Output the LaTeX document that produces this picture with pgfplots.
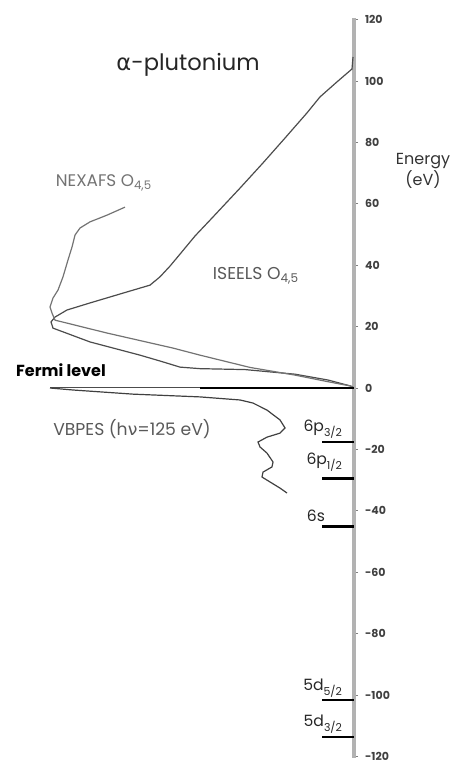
\documentclass[border=0pt]{standalone}
\usepackage{pgfplots}
\pgfplotsset{compat=1.18}
\usepackage{fontspec}
\setmainfont{Poppins}
\newfontfamily\greekfont{DejaVu Sans}
\begin{document}
\begin{tikzpicture}
\useasboundingbox (0,0) rectangle (227.5pt,381pt);
\begin{axis}[
  at={(0pt,2pt)}, anchor=south west,
  scale only axis, width=177pt, height=370pt,
  xmin=0, xmax=354, ymin=-120.5, ymax=120.5,
  axis x line=none,
  axis y line=right,
  axis line style={line width=1.6pt, color=black!30, -},
  ytick={-120,-100,...,120},
  ytick style={draw=black!50, line width=0.4pt},
  tick align=outside, major tick length=2pt,
  yticklabel style={font=\fontsize{5.5}{6}\selectfont\bfseries, text=black!75},
  /pgf/number format/assume math mode=true,
  clip=false,
]
% ISEELS O4,5
\addplot[black!70, line width=0.6pt] coordinates {
 (353,107.8) (352,103.9) (337,99.7) (320,94.8) (307,89.6) (285,81.4) (263,73.3)
 (240,65.1) (213,55.7) (195,49.5) (180,43.6) (170,39.7) (160,36.2) (150,33.5)
 (123,30.9) (90,27.7) (67,25.4) (55,23.1) (51,21.5) (53,19.5) (90,15.0)
 (140,10.7) (163,8.5) (180,6.8) (200,6.3) (245,6.0) (295,4.5) (328,2.6)
 (350,0.7) (353,0.3)};
% NEXAFS O4,5
\addplot[black!55, line width=0.6pt] coordinates {
 (125,58.9) (107,56.3) (90,54.1) (80,52.1) (75,49.8) (72,45.9) (68,41.7)
 (63,36.2) (58,31.9) (53,29.3) (50,26.4) (52,24.4) (55,22.1) (107,17.9)
 (173,13.0) (200,10.7) (250,6.7) (295,4.2) (335,1.6) (350,0.7) (353,0.3)};
% Fermi level
\addplot[black!70, line width=0.5pt] coordinates {(50,0) (354,0)};
\addplot[black, line width=1.1pt] coordinates {(200,0) (354,0)};
% VBPES
\addplot[black!75, line width=0.6pt] coordinates {
 (50,0) (73,-0.65) (133,-2.0) (200,-2.9) (240,-3.9) (253,-4.9) (267,-7.2)
 (280,-10.4) (285,-13.0) (280,-14.7) (267,-16.0) (258,-17.6) (260,-19.2)
 (267,-21.2) (273,-24.1) (272,-25.7) (263,-27.4) (262,-29.0) (270,-30.6)
 (280,-32.6) (287,-34.2)};
% core levels
\addplot[black, line width=1.3pt] coordinates {(322,-17.6) (354,-17.6)};
\addplot[black, line width=1.3pt] coordinates {(322,-29.4) (354,-29.4)};
\addplot[black, line width=1.3pt] coordinates {(322,-45.2) (354,-45.2)};
\addplot[black, line width=1.3pt] coordinates {(322,-101.6) (354,-101.6)};
\addplot[black, line width=1.3pt] coordinates {(322,-113.7) (354,-113.7)};
% labels
\node[font=\fontsize{11.3}{12}\selectfont, text=black!85] at (axis cs:188,105.2) {{\greekfont α}-plutonium};
\node[font=\fontsize{8.4}{9}\selectfont, text=black!55] at (axis cs:104,66.8) {NEXAFS O\textsubscript{4,5}};
\node[font=\fontsize{8.6}{9}\selectfont, text=black!65] at (axis cs:256,36.5) {ISEELS O\textsubscript{4,5}};
\node[font=\fontsize{8}{9}\selectfont\bfseries, text=black] at (axis cs:61,5.9) {Fermi level};
\node[font=\fontsize{8.6}{9}\selectfont, text=black!65] at (axis cs:132,-13.4) {VBPES (h{\greekfont ν}=125 eV)};
\node[align=center, font=\fontsize{8}{9}\selectfont, text=black!80] at (axis cs:423,70.7) {Energy\\(eV)};
\node[anchor=east, font=\fontsize{7.8}{8}\selectfont, text=black!85] at (axis cs:350,-13.4) {6p\textsubscript{3/2}};
\node[anchor=east, font=\fontsize{7.8}{8}\selectfont, text=black!85] at (axis cs:350,-24.1) {6p\textsubscript{1/2}};
\node[anchor=east, font=\fontsize{7.8}{8}\selectfont, text=black!85] at (axis cs:332,-41.7) {6s};
\node[anchor=east, font=\fontsize{7.8}{8}\selectfont, text=black!85] at (axis cs:350,-97.7) {5d\textsubscript{5/2}};
\node[anchor=east, font=\fontsize{7.8}{8}\selectfont, text=black!85] at (axis cs:350,-109.4) {5d\textsubscript{3/2}};
\end{axis}
\end{tikzpicture}
\end{document}
